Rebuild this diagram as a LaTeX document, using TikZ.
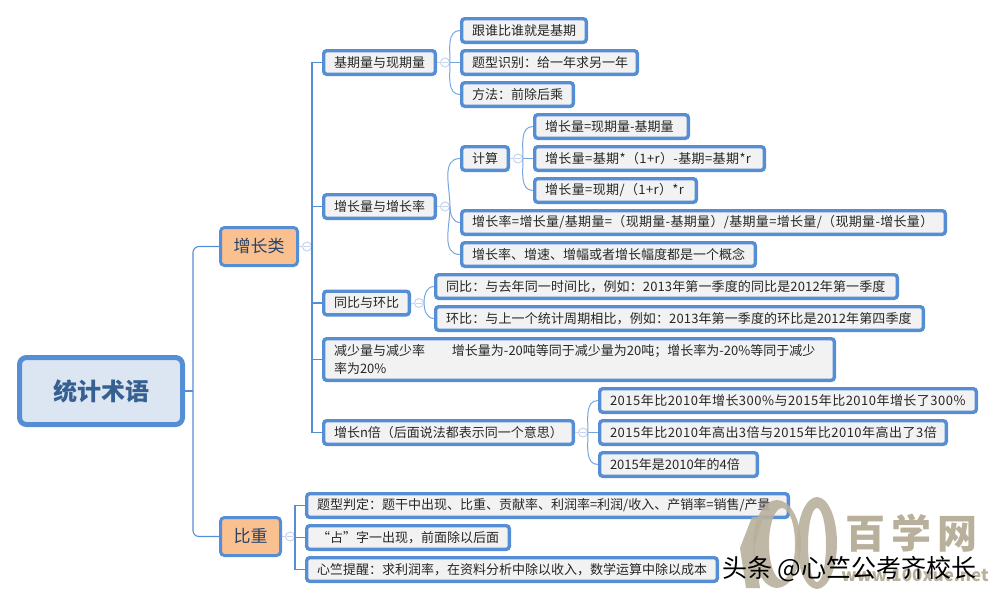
\documentclass[tikz,border=0pt]{standalone}
\usepackage{fontspec}
\setmainfont{Noto Sans CJK SC}
\usetikzlibrary{positioning}
\definecolor{lineBlue}{HTML}{558ED5}
\definecolor{foldBlue}{HTML}{C6D4EE}
\definecolor{rootFill}{HTML}{DCE6F2}
\definecolor{rootText}{HTML}{376092}
\definecolor{topicFill}{HTML}{FAC08F}
\definecolor{leafFill}{HTML}{F2F2F2}
\definecolor{markTan}{HTML}{B9B09C}
\tikzset{
    leaf/.style={draw=lineBlue,fill=leafFill,line width=3.4pt,rounded corners=3pt,
        anchor=west,align=left,minimum height=23.6pt,inner xsep=10.3pt,inner ysep=0pt,
        text=black!85,font=\fontsize{13}{18}\selectfont},
    topic/.style={draw=lineBlue,fill=topicFill,line width=3pt,rounded corners=4pt,
        minimum height=38pt,text=rootText!70!black,font=\fontsize{17}{20}\selectfont},
    fold/.style={circle,draw=foldBlue,fill=white,line width=1pt,minimum size=9pt,inner sep=0pt,
        path picture={\draw[foldBlue,line width=1pt]
            ([xshift=-3pt]path picture bounding box.center) --
            ([xshift=3pt]path picture bounding box.center);}},
    branch/.style={draw=lineBlue,line width=1.1pt},
    twig/.style={draw=lineBlue!80,line width=1pt},
    spaced/.style={execute at begin node=\addfontfeature{LetterSpace=#1}}
}

\begin{document}
\begin{tikzpicture}[x=1pt,y=-1pt]
\useasboundingbox (0,0) rectangle (995,600);

% root and topics
\node[draw=lineBlue,fill=rootFill,line width=5pt,rounded corners=7pt,minimum width=163pt,
    minimum height=67pt,text=rootText,font=\fontsize{24}{28}\selectfont\bfseries]
    (root) at (101,391) {统计术语};
\node[topic,minimum width=77pt](growth) at (259,246.5){增长类};
\node[topic,minimum width=60pt](share) at (250.5,536.5){比重};
\coordinate (rootTrunk) at ([xshift=8pt]root.east);

% growth, second level
\node[leaf,text width=91pt](baseQty) at (322,62.5){基期量与现期量};
\node[leaf,text width=91pt](growthQty) at (322,206.5){增长量与增长率};
\node[leaf,text width=65pt](yoy) at (322,303){同比与环比};
\node[leaf,text width=490pt,minimum height=41.6pt](decrease) at (322,359.5)
    {减少量与减少率\hspace{27pt}增长量为-20吨等同于减少量为20吨；增长率为-20\%等同于减少\\率为20\%};
\node[leaf,text width=229pt](nTimes) at (322,432.5){增长n倍（后面说法都表示同一个意思）};

% base quantity leaves
\node[leaf,text width=104pt](whoBase) at (460,30.5){跟谁比谁就是基期};
\node[leaf,text width=155pt](findType) at (460,62.5){题型识别：给一年求另一年};
\node[leaf,text width=91pt](method) at (460,94.5){方法：前除后乘};

% growth quantity leaves
\node[leaf,text width=26pt](calc) at (460,158.5){计算};
\node[leaf,spaced=2.5,text width=463pt](rateEq) at (460,222.5)
    {增长率=增长量/基期量=（现期量-基期量）/基期量=增长量/（现期量-增长量）};
\node[leaf,text width=273pt](sameIdea) at (460,254.5){增长率、增速、增幅或者增长幅度都是一个概念};
\node[leaf,text width=133pt](calcOne) at (533,126.5){增长量=现期量-基期量};
\node[leaf,spaced=3,text width=209pt](calcTwo) at (533,158.5){增长量=基期*（1+r）-基期=基期*r};
\node[leaf,spaced=3,text width=141pt](calcThree) at (533,190.5){增长量=现期/（1+r）*r};

% year on year leaves
\node[leaf,spaced=1,text width=441pt](sameTerm) at (434,286.5)
    {同比：与去年同一时间比，例如：2013年第一季度的同比是2012年第一季度};
\node[leaf,spaced=1,text width=467pt](lastTerm) at (434,318.5)
    {环比：与上一个统计周期相比，例如：2013年第一季度的环比是2012年第四季度};

% n times leaves
\node[leaf,spaced=3.7,text width=356pt](timesOne) at (598,400.5){2015年比2010年增长300\%与2015年比2010年增长了300\%};
\node[leaf,spaced=3.7,text width=326pt](timesTwo) at (598,432.5){2015年比2010年高出3倍与2015年比2010年高出了3倍};
\node[leaf,text width=137pt](timesThree) at (598,464.5){2015年是2010年的4倍};

% share leaves
\node[leaf,text width=461pt](shareType) at (305,505.5)
    {题型判定：题干中出现、比重、贡献率、利润率=利润/收入、产销率=销售/产量};
\node[leaf,text width=182pt](shareWord) at (305,537.5){“占”字一出现，前面除以后面};
\node[leaf,text width=390pt](shareNote) at (305,569.5)
    {心竺提醒：求利润率，在资料分析中除以收入，数学运算中除以成本};

% fold marks
\node[fold,right=3pt of growth](foldGrowth){};
\node[fold,right=3pt of share](foldShare){};
\node[fold,right=3pt of baseQty](foldBase){};
\node[fold,right=3pt of growthQty](foldQty){};
\node[fold,right=3pt of calc](foldCalc){};
\node[fold,right=3pt of yoy](foldYoy){};
\node[fold,right=3pt of nTimes](foldTimes){};

% connectors
\draw[branch](root.east) -- (rootTrunk);
\draw[branch,rounded corners=6pt](rootTrunk) |- (growth.west);
\draw[branch,rounded corners=6pt](rootTrunk) |- (share.west);
\foreach \parentNode/\foldNode in {growth/foldGrowth,share/foldShare,baseQty/foldBase,
    growthQty/foldQty,calc/foldCalc,yoy/foldYoy,nTimes/foldTimes}
{
    \draw[foldBlue,line width=1pt](\parentNode.east) -- (\foldNode.west);
}
\foreach \child in {baseQty,growthQty,yoy,decrease,nTimes}
{
    \draw[branch](foldGrowth.east) |- (\child.west);
}
\foreach \child in {shareType,shareWord,shareNote}
{
    \draw[branch](foldShare.east) |- (\child.west);
}
\foreach \foldNode/\upChild/\midChild/\downChild in {foldBase/whoBase/findType/method,
    foldCalc/calcOne/calcTwo/calcThree,foldTimes/timesOne/timesTwo/timesThree}
{
    \draw[twig](\foldNode.east) to[out=90,in=180] (\upChild.west);
    \draw[twig](\foldNode.east) -- (\midChild.west);
    \draw[twig](\foldNode.east) to[out=-90,in=180] (\downChild.west);
}
\draw[twig](foldQty.east) to[out=90,in=180] (calc.west);
\draw[twig](foldQty.east) to[out=-90,in=180] (rateEq.west);
\draw[twig](foldQty.east) to[out=-90,in=180] (sameIdea.west);
\draw[twig](foldYoy.east) to[out=90,in=180] (sameTerm.west);
\draw[twig](foldYoy.east) to[out=-90,in=180] (lastTerm.west);

% watermark
\fill[markTan,opacity=.9,even odd rule](777,544) ellipse [x radius=24,y radius=44]
    (782,544) ellipse [x radius=13,y radius=36];
\fill[markTan,opacity=.9,even odd rule](817,543) ellipse [x radius=20,y radius=46]
    (817,545) ellipse [x radius=9,y radius=37];
\fill[markTan,opacity=.9](763,517) -- (752,517) -- (740,548) -- (746,588) -- (760,588) -- (754,548) -- cycle;
\node[text=markTan,font=\fontsize{40}{44}\selectfont\bfseries](markName) at (911,533)
    {百\hspace{6pt}学\hspace{6pt}网};
\node[text=markTan,font=\fontsize{17}{20}\selectfont\bfseries](markSite) at (915,575){www.100xue.net};
\node[anchor=west,inner sep=0pt,text=black,font=\fontsize{25}{28}\selectfont](markPost) at (722,569)
    {头条 @心竺公考齐校长};

\end{tikzpicture}
\end{document}
